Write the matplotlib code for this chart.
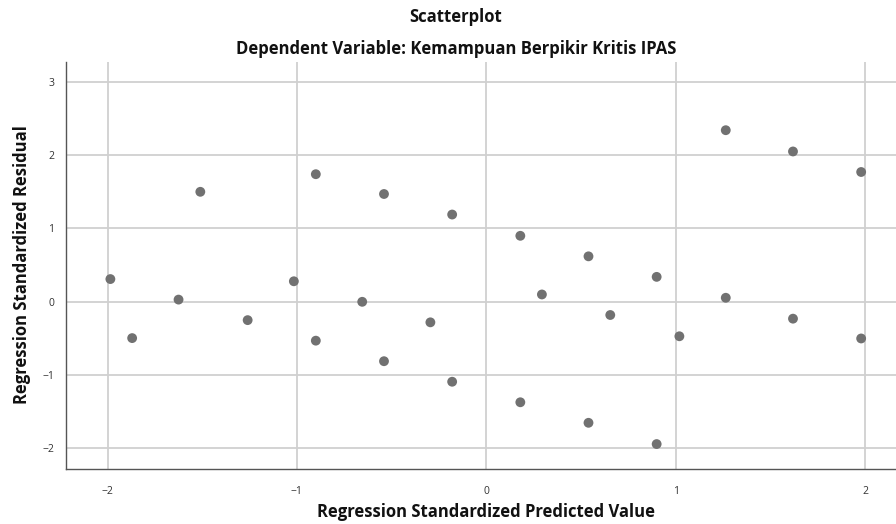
import matplotlib
matplotlib.use("Agg")
import matplotlib.pyplot as plt

# standardized predicted value (x) and standardized residual (y)
pred = [-1.985, -1.87, -1.625, -1.51, -1.26, -1.016, -0.90, -0.90, -0.655, -0.54,
        -0.54, -0.295, -0.18, -0.18, 0.18, 0.18, 0.294, 0.54, 0.54, 0.655,
        0.90, 0.90, 1.02, 1.265, 1.265, 1.62, 1.62, 1.98, 1.98]
resid = [0.31, -0.495, 0.03, 1.50, -0.25, 0.28, 1.74, -0.53, 0.0, 1.47,
         -0.81, -0.28, 1.19, -1.09, 0.90, -1.37, 0.10, 0.62, -1.65, -0.18,
         0.34, -1.94, -0.47, 2.34, 0.055, 2.05, -0.23, 1.77, -0.50]

xticks = [-2, -1, 0, 1, 2]
yticks = [-2, -1, 0, 1, 2, 3]

plt.rcParams['font.family'] = ['Open Sans', 'DejaVu Sans']

fig = plt.figure(figsize=(8.96, 5.24), dpi=100)
ax = fig.add_axes([65.5 / 896, 1 - 469 / 524, 1 - 65.5 / 896, (469 - 62) / 524])

ax.scatter(pred, resid, s=50, color='#717171', edgecolors='none', zorder=3)

ax.set_xlim(-2.222, 2.164)
ax.set_ylim(-2.28, 3.27)
ax.set_xticks(xticks)
ax.set_yticks(yticks)
ax.set_xticklabels(['\u22122', '\u22121', '0', '1', '2'])
ax.set_yticklabels(['\u22122', '\u22121', '0', '1', '2', '3'])
ax.tick_params(length=0, labelsize=7.5, colors='#333333', pad=12)
ax.tick_params(axis='y', pad=8)
ax.grid(True, color='#d0d0d0', linewidth=1.3, zorder=0)
ax.set_axisbelow(True)

for s in ['top', 'right']:
    ax.spines[s].set_visible(False)
for s in ['left', 'bottom']:
    ax.spines[s].set_color('#555555')
    ax.spines[s].set_linewidth(1.0)

title_kw = dict(ha='center', va='center', fontsize=12, fontweight='bold', color='#111111')
fig.text(456 / 896, 1 - 17 / 524, 'Scatterplot', **title_kw)
fig.text(456 / 896, 1 - 49 / 524, 'Dependent Variable: Kemampuan Berpikir Kritis IPAS', **title_kw)
fig.text(486 / 896, 1 - 512 / 524, 'Regression Standardized Predicted Value', **title_kw)
fig.text(22 / 896, 1 - 265 / 524, 'Regression Standardized Residual', rotation=90, **title_kw)

fig.savefig('out.png', dpi=100)
